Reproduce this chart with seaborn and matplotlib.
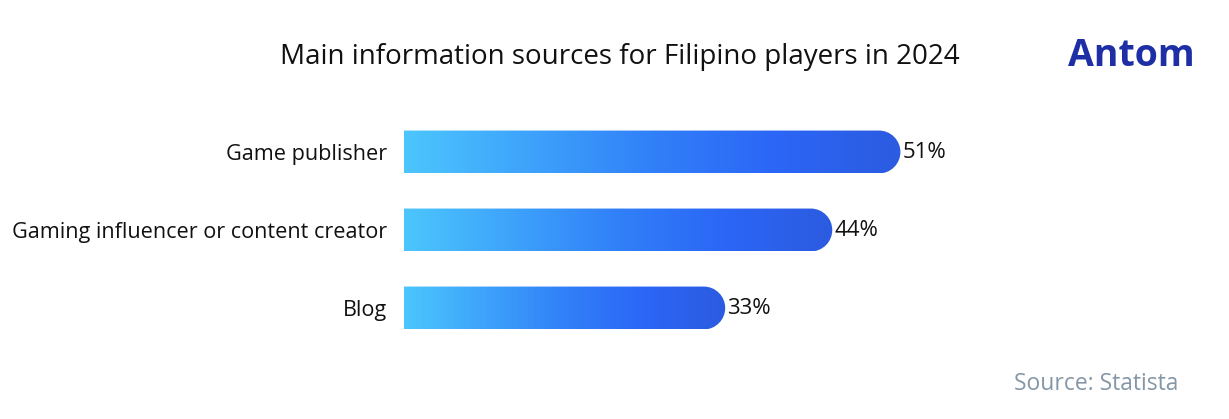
import numpy as np
import pandas as pd
import seaborn as sns
import matplotlib.pyplot as plt
from matplotlib.path import Path
from matplotlib.patches import PathPatch
from matplotlib.transforms import IdentityTransform
from matplotlib.colors import LinearSegmentedColormap

# data
sources = ["Game publisher", "Gaming influencer or content creator", "Blog"]
shares = [51, 44, 33]

df = pd.DataFrame({"source": sources, "share": shares})

sns.set_theme(style="white")
plt.rcParams["font.family"] = ["Open Sans", "DejaVu Sans"]

W, H = 1229, 419
fig = plt.figure(figsize=(W / 100, H / 100), dpi=100)
# axes placed in pixels: left edge of bars at x=404, rows centred at 152/230/308
ax = fig.add_axes([404 / W, 1 - 347 / H, 584 / W, 234 / H])

sns.barplot(data=df, x="share", y="source", ax=ax, width=0.55,
            color="#3a8cf7", orient="h")
ax.set_xlim(0, 60)
ax.set_ylim(2.5, -0.5)
sns.despine(ax=ax, left=True, bottom=True)
ax.set_xticks([])
ax.set_xlabel("")
ax.set_ylabel("")
ax.tick_params(axis="y", length=0, pad=12, labelsize=15.6, labelcolor="#111111")

cmap = LinearSegmentedColormap.from_list(
    "bars", ["#4cc6fd", "#3ea3fb", "#3180f8", "#2b66f6", "#2c5be0"])
grad = np.linspace(0, 1, 256).reshape(1, -1)

fig.canvas.draw()
for bar, val in zip(ax.patches, shares):
    x0, y0 = bar.get_x(), bar.get_y()
    w, h = bar.get_width(), bar.get_height()
    (px0, py0), (px1, py1) = ax.transData.transform([(x0, y0), (x0 + w, y0 + h)])
    top, bot = max(py0, py1), min(py0, py1)
    r = (top - bot) / 2
    # rectangle with a half-round right end, in pixels
    k = 0.5523 * r
    verts = [(px0, bot), (px1 - r, bot),
             (px1 - r + k, bot), (px1, bot + r - k), (px1, bot + r),
             (px1, top - r + k), (px1 - r + k, top), (px1 - r, top),
             (px0, top), (px0, bot)]
    codes = [Path.MOVETO, Path.LINETO,
             Path.CURVE4, Path.CURVE4, Path.CURVE4,
             Path.CURVE4, Path.CURVE4, Path.CURVE4,
             Path.LINETO, Path.CLOSEPOLY]
    clip = PathPatch(Path(verts, codes), transform=IdentityTransform(),
                     facecolor="none", edgecolor="none")
    ax.add_patch(clip)
    bar.set_visible(False)
    im = ax.imshow(grad, cmap=cmap, aspect="auto",
                   extent=[x0, x0 + w, y0 + h, y0], zorder=2)
    im.set_clip_path(clip)
    ax.text(x0 + w + 0.2, y0 + h / 2, f"{val}%", va="center", ha="left",
            fontsize=16, color="#111111")

ax.set_xlim(0, 60)
ax.set_ylim(2.5, -0.5)

fig.text(620 / W, 1 - 57 / H, "Main information sources for Filipino players in 2024",
         ha="center", va="center", fontsize=20, color="#111111")
fig.text(1131 / W, 1 - 56 / H, "Antom", ha="center", va="center",
         fontsize=27, fontweight="bold", color="#1e2fa6")
fig.text(1178 / W, 1 - 384 / H, "Source: Statista", ha="right", va="center",
         fontsize=16.5, color="#8597a6")

fig.savefig("out.png", dpi=100, facecolor="white")
